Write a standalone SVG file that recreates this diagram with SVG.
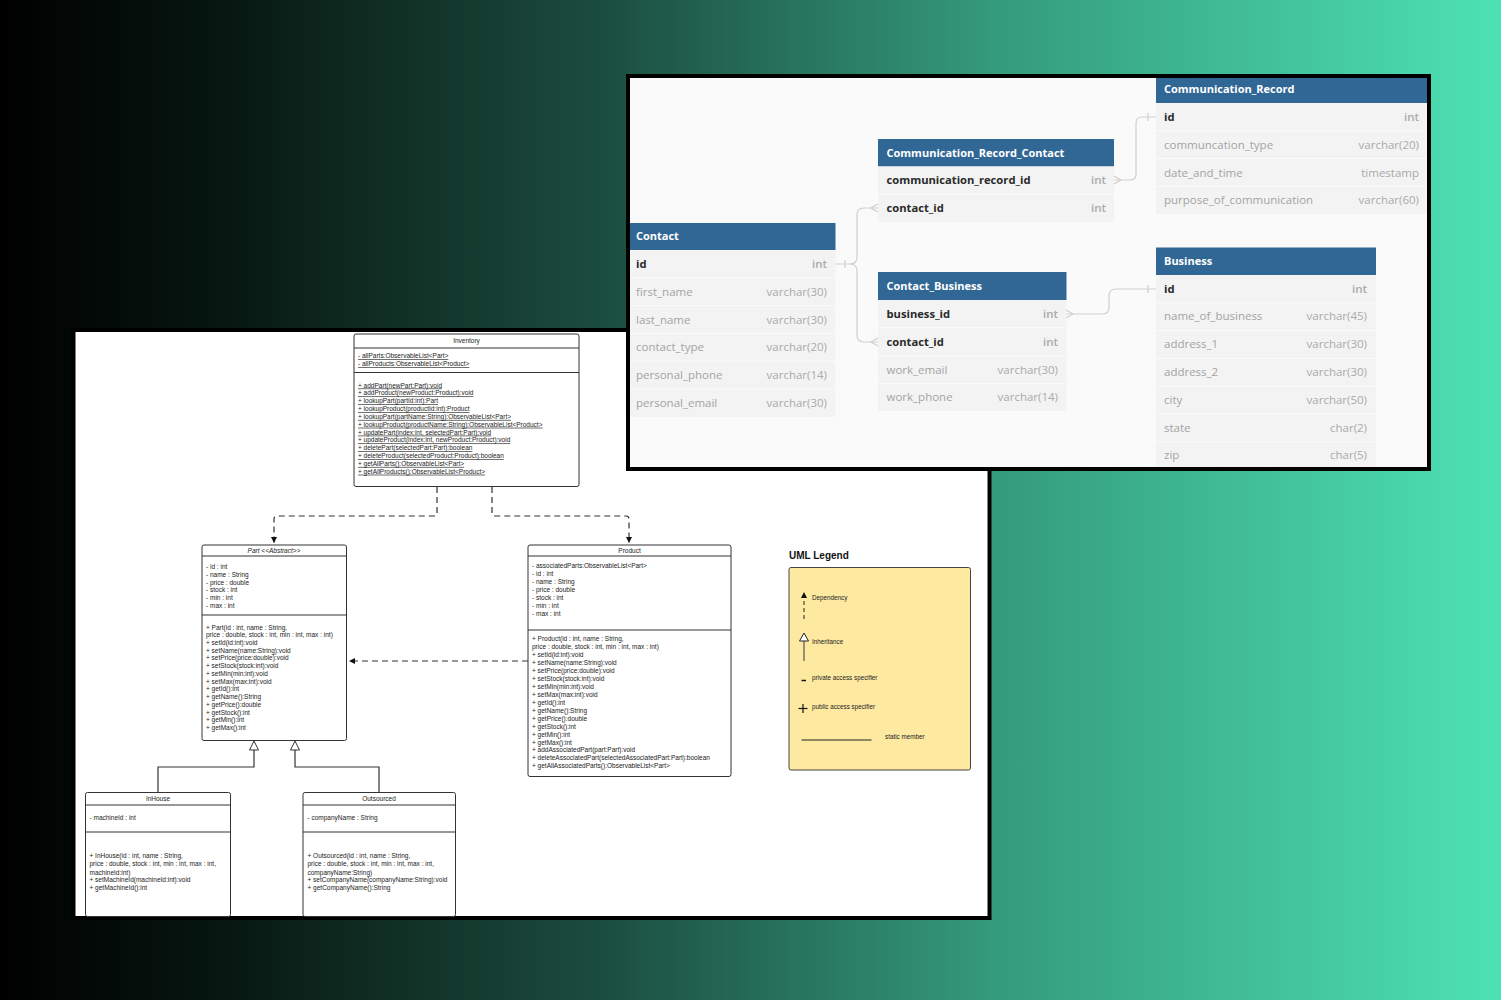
<svg xmlns="http://www.w3.org/2000/svg" width="1501" height="1000" viewBox="0 0 1501 1000">
<defs>
<linearGradient id="bg" x1="0" y1="0" x2="1" y2="0">
<stop offset="0" stop-color="#000000"/>
<stop offset="0.15" stop-color="#071712"/>
<stop offset="0.4" stop-color="#1b4d3e"/>
<stop offset="0.66" stop-color="#349a7c"/>
<stop offset="1" stop-color="#4de2b3"/>
</linearGradient>
<marker id="dep" viewBox="0 0 8 8" refX="8" refY="4" markerWidth="6" markerHeight="6" markerUnits="userSpaceOnUse" orient="auto">
<path d="M0,0 L8,4 L0,8 z" fill="#111"/>
</marker>
<style>
.uml{font-family:"Liberation Sans",Arial,sans-serif;font-size:6.5px;fill:#222}
.ttl{text-anchor:middle}
.st{text-decoration:underline}
.box{fill:#fff;stroke:#333;stroke-width:1}
.div{stroke:#333;stroke-width:1}
.dash{fill:none;stroke:#333;stroke-width:1.2;stroke-dasharray:6,4}
.inh{fill:none;stroke:#333;stroke-width:1.2}
.tri{fill:#fff;stroke:#333;stroke-width:1}
.hdr{fill:#316795}
.row{fill:#f3f3f3}
.sep{stroke:#fbfbfb;stroke-width:1}
.er{font-family:"Open Sans","Noto Sans",sans-serif;font-size:11.5px}
.ht{font-weight:700;fill:#fff;font-size:11px}
.key{font-weight:700;fill:#2a2a2a;font-size:11.2px}
.fld{fill:#a3a3a3}
.typ{text-anchor:end;fill:#aaa}
.tk{font-weight:600}
.con{fill:none;stroke:#cfcfcf;stroke-width:1.2}
.leg{font-family:"Liberation Sans",Arial,sans-serif;font-size:6.3px;fill:#222}
</style>
</defs>
<rect x="0" y="0" width="1501" height="1000" fill="url(#bg)"/>

<g id="uml-panel">
<rect x="73.5" y="330" width="916" height="588" fill="#ffffff" stroke="#000" stroke-width="4"/>
</g>

<g id="uml-connectors">
<path class="dash" d="M437,487 V513 Q437,516 434,516 H277 Q274,516 274,519 V543" marker-end="url(#dep)"/>
<path class="dash" d="M492,487 V513 Q492,516 495,516 H626 Q629,516 629,519 V543" marker-end="url(#dep)"/>
<path class="dash" d="M528,661 H349" marker-end="url(#dep)"/>
<path class="inh" d="M254,750 V767 H158 V792"/>
<path class="inh" d="M295,750 V767 H379 V792"/>
<path class="tri" d="M254,741 L258.5,750 L249.5,750 z"/>
<path class="tri" d="M295,741 L299.5,750 L290.5,750 z"/>
</g>

<g id="inventory" class="uml">
<rect class="box" x="354" y="334" width="225" height="152.5" rx="2"/>
<line class="div" x1="354" y1="348" x2="579" y2="348"/>
<line class="div" x1="354" y1="372.5" x2="579" y2="372.5"/>
<text class="ttl" x="466.5" y="343">Inventory</text>
<text class="st" x="358" y="358.3">- allParts:ObservableList&lt;Part&gt;</text>
<text class="st" x="358" y="366.2">- allProducts:ObservableList&lt;Product&gt;</text>
<text class="st" x="358" y="387.5">+ addPart(newPart:Part):void</text>
<text class="st" x="358" y="395.4">+ addProduct(newProduct:Product):void</text>
<text class="st" x="358" y="403.2">+ lookupPart(partId:int):Part</text>
<text class="st" x="358" y="411.1">+ lookupProduct(productId:int):Product</text>
<text class="st" x="358" y="418.9">+ lookupPart(partName:String):ObservableList&lt;Part&gt;</text>
<text class="st" x="358" y="426.7">+ lookupProduct(productName:String):ObservableList&lt;Product&gt;</text>
<text class="st" x="358" y="434.6">+ updatePart(index:int, selectedPart:Part):void</text>
<text class="st" x="358" y="442.4">+ updateProduct(index:int, newProduct:Product):void</text>
<text class="st" x="358" y="450.2">+ deletePart(selectedPart:Part):boolean</text>
<text class="st" x="358" y="458.1">+ deleteProduct(selectedProduct:Product):boolean</text>
<text class="st" x="358" y="465.9">+ getAllParts():ObservableList&lt;Part&gt;</text>
<text class="st" x="358" y="473.7">+ getAllProducts():ObservableList&lt;Product&gt;</text>
</g>

<g id="part" class="uml">
<rect class="box" x="202" y="545" width="144.5" height="195.5" rx="2"/>
<line class="div" x1="202" y1="556" x2="346.5" y2="556"/>
<line class="div" x1="202" y1="615" x2="346.5" y2="615"/>
<text class="ttl" x="274" y="553.2" font-style="italic">Part &lt;&lt;Abstract&gt;&gt;</text>
<text x="206" y="568.9">- id : int</text>
<text x="206" y="576.7">- name : String</text>
<text x="206" y="584.5">- price : double</text>
<text x="206" y="592.3">- stock : int</text>
<text x="206" y="600.1">- min : int</text>
<text x="206" y="607.9">- max : int</text>
<text x="206" y="629.5">+ Part(id : int, name : String,</text>
<text x="206" y="637.2">price : double, stock : int, min : int,  max : int)</text>
<text x="206" y="645">+ setId(id:int):void</text>
<text x="206" y="652.7">+ setName(name:String):void</text>
<text x="206" y="660.4">+ setPrice(price:double):void</text>
<text x="206" y="668.1">+ setStock(stock:int):void</text>
<text x="206" y="675.9">+ setMin(min:int):void</text>
<text x="206" y="683.6">+ setMax(max:int):void</text>
<text x="206" y="691.3">+ getId():int</text>
<text x="206" y="699">+ getName():String</text>
<text x="206" y="706.8">+ getPrice():double</text>
<text x="206" y="714.5">+ getStock():int</text>
<text x="206" y="722.2">+ getMin():int</text>
<text x="206" y="730">+ getMax():int</text>
</g>

<g id="product" class="uml">
<rect class="box" x="528" y="545" width="203" height="231.5" rx="2"/>
<line class="div" x1="528" y1="556" x2="731" y2="556"/>
<line class="div" x1="528" y1="630" x2="731" y2="630"/>
<text class="ttl" x="629.5" y="553.2">Product</text>
<text x="532" y="568.3">- associatedParts:ObservableList&lt;Part&gt;</text>
<text x="532" y="576.3">- id : int</text>
<text x="532" y="584.3">- name : String</text>
<text x="532" y="592.2">- price : double</text>
<text x="532" y="600.1">- stock : int</text>
<text x="532" y="608">- min : int</text>
<text x="532" y="615.9">- max : int</text>
<text x="532" y="641">+ Product(id : int, name : String,</text>
<text x="532" y="649">price : double, stock : int, min : int,  max : int)</text>
<text x="532" y="656.9">+ setId(id:int):void</text>
<text x="532" y="664.9">+ setName(name:String):void</text>
<text x="532" y="672.8">+ setPrice(price:double):void</text>
<text x="532" y="680.8">+ setStock(stock:int):void</text>
<text x="532" y="688.8">+ setMin(min:int):void</text>
<text x="532" y="696.7">+ setMax(max:int):void</text>
<text x="532" y="704.7">+ getId():int</text>
<text x="532" y="712.6">+ getName():String</text>
<text x="532" y="720.6">+ getPrice():double</text>
<text x="532" y="728.6">+ getStock():int</text>
<text x="532" y="736.5">+ getMin():int</text>
<text x="532" y="744.5">+ getMax():int</text>
<text x="532" y="752.4">+ addAssociatedPart(part:Part):void</text>
<text x="532" y="760.4">+ deleteAssociatedPart(selectedAssociatedPart:Part):boolean</text>
<text x="532" y="768.3">+ getAllAssociatedParts():ObservableList&lt;Part&gt;</text>
</g>

<g id="inhouse" class="uml">
<rect class="box" x="85.5" y="792.5" width="145" height="124" rx="2"/>
<line class="div" x1="85.5" y1="805" x2="230.5" y2="805"/>
<line class="div" x1="85.5" y1="832" x2="230.5" y2="832"/>
<text class="ttl" x="158" y="801">InHouse</text>
<text x="89.5" y="820.2">- machineId : int</text>
<text x="89.5" y="858.2">+ InHouse(id : int, name : String,</text>
<text x="89.5" y="866.4">price : double, stock : int, min : int,  max : int,</text>
<text x="89.5" y="874.5">machineId:int)</text>
<text x="89.5" y="882.4">+ setMachineId(machineId:int):void</text>
<text x="89.5" y="890.4">+ getMachineId():int</text>
</g>

<g id="outsourced" class="uml">
<rect class="box" x="303" y="792.5" width="152.5" height="124" rx="2"/>
<line class="div" x1="303" y1="805" x2="455.5" y2="805"/>
<line class="div" x1="303" y1="832" x2="455.5" y2="832"/>
<text class="ttl" x="379" y="801">Outsourced</text>
<text x="307.5" y="820.2">- companyName : String</text>
<text x="307.5" y="858.2">+ Outsourced(id : int, name : String,</text>
<text x="307.5" y="866.4">price : double, stock : int, min : int,  max : int,</text>
<text x="307.5" y="874.5">companyName:String)</text>
<text x="307.5" y="882.4">+ setCompanyName(companyName:String):void</text>
<text x="307.5" y="890.4">+ getCompanyName():String</text>
</g>

<g id="uml-legend">
<text x="789" y="559" font-family="Liberation Sans,Arial,sans-serif" font-size="10" font-weight="700" fill="#111">UML Legend</text>
<rect x="789" y="567.5" width="181.5" height="202.5" rx="2" fill="#fee9a1" stroke="#444" stroke-width="1"/>
<line x1="804" y1="619" x2="804" y2="592" stroke="#222" stroke-width="1" stroke-dasharray="4,3" marker-end="url(#dep)"/>
<text class="leg" x="812" y="600">Dependency</text>
<line x1="804" y1="661" x2="804" y2="641" stroke="#555" stroke-width="1.2"/>
<path d="M804,633 L808.5,641 L799.5,641 z" fill="#fff" stroke="#222" stroke-width="1"/>
<text class="leg" x="812" y="644">Inheritance</text>
<line x1="801.5" y1="680.5" x2="806" y2="680.5" stroke="#111" stroke-width="1.5"/>
<text class="leg" x="812" y="680">private access specifier</text>
<line x1="798.5" y1="708.5" x2="807.5" y2="708.5" stroke="#111" stroke-width="1.2"/>
<line x1="803" y1="704" x2="803" y2="713" stroke="#111" stroke-width="1.2"/>
<text class="leg" x="812" y="709">public access specifier</text>
<line x1="801.5" y1="740" x2="871.5" y2="740" stroke="#222" stroke-width="1"/>
<text class="leg" x="885" y="739">static member</text>
</g>

<g id="er-panel">
<rect x="628" y="76" width="801" height="393" fill="#fafafa" stroke="#000" stroke-width="4"/>
</g>

<g id="er-connectors">
<path class="con" d="M835,264 H850 Q857,264 857,257 V215 Q857,208 864,208 H878"/>
<path class="con" d="M850,264 Q857,264 857,271 V335 Q857,342 864,342 H878"/>
<path class="con" d="M845,260 V268"/>
<path class="con" d="M878,204 L871,208 L878,212"/>
<path class="con" d="M878,338 L871,342 L878,346"/>
<path class="con" d="M1114,180 H1130 Q1136,180 1136,174 V123 Q1136,117 1142,117 H1156"/>
<path class="con" d="M1114,176 L1121,180 L1114,184"/>
<path class="con" d="M1148,113 V121"/>
<path class="con" d="M1066,314 H1102 Q1109,314 1109,307 V296 Q1109,289 1116,289 H1156"/>
<path class="con" d="M1066,310 L1073,314 L1066,318"/>
<path class="con" d="M1148,285 V293"/>
</g>

<g id="contact" class="er">
<rect class="hdr" x="630" y="223" width="205.5" height="27"/>
<rect class="row" x="630" y="250" width="205.5" height="166.8"/>
<line class="sep" x1="630" y1="277.8" x2="835.5" y2="277.8"/>
<line class="sep" x1="630" y1="305.6" x2="835.5" y2="305.6"/>
<line class="sep" x1="630" y1="333.4" x2="835.5" y2="333.4"/>
<line class="sep" x1="630" y1="361.2" x2="835.5" y2="361.2"/>
<line class="sep" x1="630" y1="389" x2="835.5" y2="389"/>
<text class="ht" x="636" y="240">Contact</text>
<text class="key" x="636" y="268">id</text><text class="typ tk" x="827" y="268">int</text>
<text class="fld" x="636" y="295.7">first_name</text><text class="typ" x="827" y="295.7">varchar(30)</text>
<text class="fld" x="636" y="323.5">last_name</text><text class="typ" x="827" y="323.5">varchar(30)</text>
<text class="fld" x="636" y="351.3">contact_type</text><text class="typ" x="827" y="351.3">varchar(20)</text>
<text class="fld" x="636" y="379.1">personal_phone</text><text class="typ" x="827" y="379.1">varchar(14)</text>
<text class="fld" x="636" y="406.9">personal_email</text><text class="typ" x="827" y="406.9">varchar(30)</text>
</g>

<g id="communication-record-contact" class="er">
<rect class="hdr" x="878" y="139" width="236" height="27.5"/>
<rect class="row" x="878" y="166.5" width="236" height="55.6"/>
<line class="sep" x1="878" y1="194.3" x2="1114" y2="194.3"/>
<text class="ht" x="886.5" y="156.5">Communication_Record_Contact</text>
<text class="key" x="886.5" y="184">communication_record_id</text><text class="typ tk" x="1106" y="184">int</text>
<text class="key" x="886.5" y="212">contact_id</text><text class="typ tk" x="1106" y="212">int</text>
</g>

<g id="contact-business" class="er">
<rect class="hdr" x="878" y="272" width="188.5" height="28"/>
<rect class="row" x="878" y="300" width="188.5" height="111"/>
<line class="sep" x1="878" y1="327.8" x2="1066.5" y2="327.8"/>
<line class="sep" x1="878" y1="355.6" x2="1066.5" y2="355.6"/>
<line class="sep" x1="878" y1="383.4" x2="1066.5" y2="383.4"/>
<text class="ht" x="886.5" y="290">Contact_Business</text>
<text class="key" x="886.5" y="318">business_id</text><text class="typ tk" x="1058" y="318">int</text>
<text class="key" x="886.5" y="345.7">contact_id</text><text class="typ tk" x="1058" y="345.7">int</text>
<text class="fld" x="886.5" y="373.5">work_email</text><text class="typ" x="1058" y="373.5">varchar(30)</text>
<text class="fld" x="886.5" y="401.3">work_phone</text><text class="typ" x="1058" y="401.3">varchar(14)</text>
</g>

<g id="communication-record" class="er">
<rect class="hdr" x="1156" y="77" width="271" height="26"/>
<rect class="row" x="1156" y="103" width="271" height="111.2"/>
<line class="sep" x1="1156" y1="130.8" x2="1427" y2="130.8"/>
<line class="sep" x1="1156" y1="158.6" x2="1427" y2="158.6"/>
<line class="sep" x1="1156" y1="186.4" x2="1427" y2="186.4"/>
<text class="ht" x="1164" y="93">Communication_Record</text>
<text class="key" x="1164" y="121">id</text><text class="typ tk" x="1419" y="121">int</text>
<text class="fld" x="1164" y="148.7">communcation_type</text><text class="typ" x="1419" y="148.7">varchar(20)</text>
<text class="fld" x="1164" y="176.5">date_and_time</text><text class="typ" x="1419" y="176.5">timestamp</text>
<text class="fld" x="1164" y="204.3">purpose_of_communication</text><text class="typ" x="1419" y="204.3">varchar(60)</text>
</g>

<g id="business" class="er">
<rect class="hdr" x="1156" y="247.5" width="220" height="27.5"/>
<rect class="row" x="1156" y="275" width="220" height="192"/>
<line class="sep" x1="1156" y1="302.8" x2="1376" y2="302.8"/>
<line class="sep" x1="1156" y1="330.6" x2="1376" y2="330.6"/>
<line class="sep" x1="1156" y1="358.4" x2="1376" y2="358.4"/>
<line class="sep" x1="1156" y1="386.2" x2="1376" y2="386.2"/>
<line class="sep" x1="1156" y1="414" x2="1376" y2="414"/>
<line class="sep" x1="1156" y1="441.8" x2="1376" y2="441.8"/>
<text class="ht" x="1164" y="265">Business</text>
<text class="key" x="1164" y="292.5">id</text><text class="typ tk" x="1367" y="292.5">int</text>
<text class="fld" x="1164" y="320.3">name_of_business</text><text class="typ" x="1367" y="320.3">varchar(45)</text>
<text class="fld" x="1164" y="348.1">address_1</text><text class="typ" x="1367" y="348.1">varchar(30)</text>
<text class="fld" x="1164" y="375.9">address_2</text><text class="typ" x="1367" y="375.9">varchar(30)</text>
<text class="fld" x="1164" y="403.7">city</text><text class="typ" x="1367" y="403.7">varchar(50)</text>
<text class="fld" x="1164" y="431.5">state</text><text class="typ" x="1367" y="431.5">char(2)</text>
<text class="fld" x="1164" y="459.3">zip</text><text class="typ" x="1367" y="459.3">char(5)</text>
</g>

<g id="er-frame">
<rect x="628" y="76" width="801" height="393" fill="none" stroke="#000" stroke-width="4"/>
</g>
</svg>
